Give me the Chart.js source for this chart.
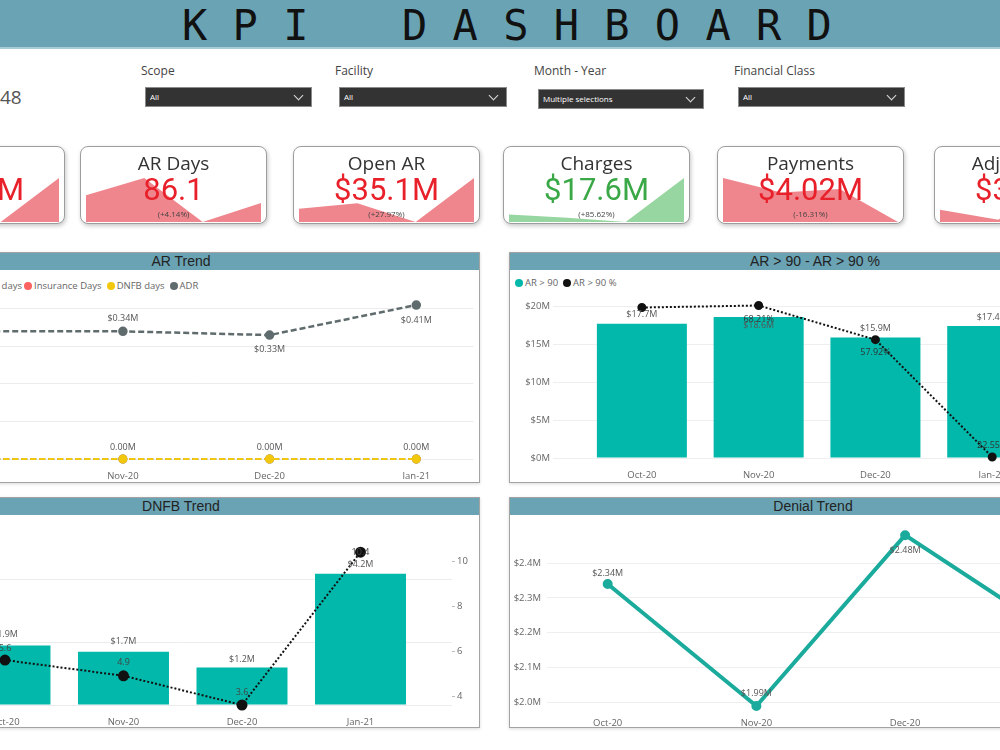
<!DOCTYPE html>
<html>
<head>
<meta charset="utf-8">
<title>KPI Dashboard</title>
<script src="https://cdn.jsdelivr.net/npm/chart.js@4.4.1/dist/chart.umd.min.js"></script>
<style>
  body { margin:0; width:1000px; height:750px; overflow:hidden; position:relative; background:#fff; font-family:"Open Sans", sans-serif; }
  #banner { position:absolute; left:0; top:0; width:1000px; height:47px; background:#6aa3b4; border-bottom:2px solid #a9cdd8; }
  #banner span { position:absolute; top:2px; font:42px/47px "DejaVu Sans Mono", monospace; color:#111; white-space:pre; }
  #total { position:absolute; left:0; top:86px; font-size:19px; line-height:22px; color:#555; }
  .flabel { position:absolute; top:63px; font-size:12px; line-height:16px; color:#444; }
  .drop { position:absolute; height:20px; background:#333; border:1px solid #8a8a8a; color:#fff; font-size:8px; line-height:18px; padding-left:4px; box-sizing:border-box; }
  .drop::after { content:''; position:absolute; right:9px; top:4px; width:6px; height:6px; border-right:1.3px solid #ddd; border-bottom:1.3px solid #ddd; transform:rotate(45deg); }
  .card { position:absolute; top:146px; width:187px; height:78px; background:#fff; border:1.5px solid #9d9d9d; border-radius:8px; box-shadow:1px 2px 4px rgba(0,0,0,.22); box-sizing:border-box; overflow:hidden; }
  .card .spark { position:absolute; left:5px; top:31px; width:175px; height:44px; }
  .card .ttl { position:absolute; left:0; width:100%; top:3px; text-align:center; font-size:19px; line-height:26px; color:#333; }
  .card .val { position:absolute; left:0; width:100%; top:25px; text-align:center; font:31px/36px Roboto, sans-serif; }
  .card .chg { position:absolute; left:0; width:100%; top:61px; text-align:center; font-size:8px; line-height:11px; color:#444; }
  .panel { position:absolute; border:1.5px solid #a3a3a3; background:#fff; box-sizing:border-box; box-shadow:0 1px 3px rgba(0,0,0,.15); }
  .phead { height:17px; background:#6aa3b4; text-align:center; font:14px/17px "Liberation Sans", Arial, sans-serif; color:#222; }
  .chartbox { position:absolute; }
  .legend { position:absolute; font-size:9.5px; line-height:12px; color:#666; white-space:nowrap; }
  .legend i { display:inline-block; width:8px; height:8px; border-radius:50%; vertical-align:-1px; margin-right:2px; }
  .legend b { font-weight:normal; margin-right:5px; }
</style>
</head>
<body>

<div id="banner"><span style="left:182px">K P I</span><span style="left:402px">D A S H B O A R D</span></div>

<div id="total">48</div>
<div class="flabel" style="left:141px">Scope</div>
<div class="drop" style="left:145px;top:87px;width:167px">All</div>
<div class="flabel" style="left:335px">Facility</div>
<div class="drop" style="left:339px;top:87px;width:168px">All</div>
<div class="flabel" style="left:534px">Month - Year</div>
<div class="drop" style="left:538px;top:89px;width:166px">Multiple selections</div>
<div class="flabel" style="left:734px">Financial Class</div>
<div class="drop" style="left:738px;top:87px;width:167px">All</div>

<div id="cards"></div>

<div class="panel" style="left:-118px;top:252px;width:598px;height:231px"><div class="phead">AR Trend</div></div>
<div class="panel" style="left:509px;top:252px;width:612px;height:231px"><div class="phead">AR &gt; 90 - AR &gt; 90 %</div></div>
<div class="panel" style="left:-118px;top:497px;width:598px;height:231px"><div class="phead">DNFB Trend</div></div>
<div class="panel" style="left:509px;top:497px;width:608px;height:231px"><div class="phead">Denial Trend</div></div>

<div class="legend" style="right:978px;top:280px"><i style="background:#01b8aa"></i><b style="margin-right:0">Patient days</b></div>
<div class="legend" style="left:24px;top:280px"><i style="background:#fd625e"></i><b>Insurance Days</b><i style="background:#f2c80f"></i><b>DNFB days</b><i style="background:#5f6b6d"></i><b>ADR</b></div>
<div class="legend" style="left:515px;top:277px"><i style="background:#01b8aa"></i><b>AR &gt; 90</b><i style="background:#111"></i><b>AR &gt; 90 %</b></div>

<div class="chartbox" style="left:-118px;top:281px;width:598px;height:198px"><canvas id="arTrend"></canvas></div>
<div class="chartbox" style="left:509px;top:290px;width:606px;height:188px"><canvas id="ar90"></canvas></div>
<div class="chartbox" style="left:-118px;top:535px;width:598px;height:191px"><canvas id="dnfb"></canvas></div>
<div class="chartbox" style="left:509px;top:520px;width:608px;height:206px"><canvas id="denial"></canvas></div>

<script>
const months = ['Oct-20', 'Nov-20', 'Dec-20', 'Jan-21'];

// KPI cards
const kpiTitles = ['ADR', 'AR Days', 'Open AR', 'Charges', 'Payments', 'Adjustments'];
const kpiValues = ['$0.41M', '86.1', '$35.1M', '$17.6M', '$4.02M', '$3.10M'];
const kpiChanges = ['(+24.24%)', '(+4.14%)', '(+27.97%)', '(+85.62%)', '(-16.31%)', '(-29.55%)'];
const kpiStatus = ['bad', 'bad', 'bad', 'good', 'bad', 'bad'];
const adrSpark = [0.34, 0.34, 0.33, 0.41];
const arDaysSpark = [87.5, 90.6, 82.7, 86.1];
const openArSpark = [29.7, 30.7, 27.4, 35.1];
const chargesSpark = [10.9, 10.3, 9.5, 17.6];
const paymentsSpark = [5.06, 4.72, 4.80, 4.02];
const adjustSpark = [3.46, 3.17, 4.40, 3.10];

// AR Trend
const patientDays = [88.7, 92.1, 86.4, 90.2];
const insuranceDays = [81.3, 84.2, 79.6, 82.8];
const dnfbDays = [5.6, 4.9, 3.6, 10.4];
const adr = [340000, 340000, 330000, 410000];
const arTicks = [0, 100000, 200000, 300000, 400000];

// AR > 90
const arOver90 = [17.7, 18.6, 15.9, 17.4];
const arOver90Pct = [67.6, 68.21, 57.92, 22.55];
const ar90Ticks = [0, 5, 10, 15, 20];

// DNFB
const dnfbAmount = [1.9, 1.7, 1.2, 4.2];
const dnfbAmountTicks = [0, 2, 4];
const dnfbDayTicks = [4, 6, 8, 10];

// Denials
const denials = [2.34, 1.99, 2.48, 2.20];
const denialTicks = [2.0, 2.1, 2.2, 2.3, 2.4];

Chart.defaults.font.family = '"Open Sans", sans-serif';
Chart.defaults.animation = false;
Chart.defaults.plugins.legend.display = false;
Chart.defaults.plugins.tooltip.enabled = false;

const cardX = [-122, 80, 293, 503, 717, 934];
const statusStyle = {
  good: { text: '#3aa846', fill: '#97d6a0' },
  bad: { text: '#e8202a', fill: '#ef868d' }
};
const kpiTrends = [adrSpark, arDaysSpark, openArSpark, chargesSpark, paymentsSpark, adjustSpark];

const cards = document.getElementById('cards');
kpiTitles.forEach((title, i) => {
  const st = statusStyle[kpiStatus[i]];
  const card = document.createElement('div');
  card.className = 'card';
  card.style.left = cardX[i] + 'px';
  card.innerHTML =
    '<div class="spark"><canvas></canvas></div>' +
    '<div class="ttl">' + title + '</div>' +
    '<div class="val" style="color:' + st.text + '">' + kpiValues[i] + '</div>' +
    '<div class="chg">' + kpiChanges[i] + '</div>';
  cards.appendChild(card);

  const vals = kpiTrends[i];
  new Chart(card.querySelector('canvas'), {
    type: 'line',
    data: {
      labels: months,
      datasets: [{ data: vals, fill: 'start', backgroundColor: st.fill, borderWidth: 0, pointRadius: 0, tension: 0 }]
    },
    options: {
      responsive: true,
      maintainAspectRatio: false,
      scales: {
        x: { display: false, offset: false },
        y: { display: false, min: Math.min(...vals), max: Math.max(...vals) }
      }
    }
  });
});

// draws the value labels next to each bar / point
const valueLabels = {
  id: 'valueLabels',
  afterDatasetsDraw(chart) {
    const ctx = chart.ctx;
    chart.data.datasets.forEach((ds, i) => {
      if (!ds.labels) return;
      const meta = chart.getDatasetMeta(i);
      meta.data.forEach((el, j) => {
        const dy = ds.labels.dy[j];
        if (dy === null) return;
        ctx.save();
        ctx.font = '9px "Open Sans", sans-serif';
        ctx.fillStyle = ds.labels.color || '#555';
        ctx.textAlign = 'center';
        ctx.textBaseline = 'middle';
        ctx.fillText(ds.labels.fmt(ds.data[j].y), el.x, el.y + dy);
        ctx.restore();
      });
    });
  }
};

const pts = vals => vals.map((v, i) => ({ x: i, y: v }));
const fixedTicks = values => s => { s.ticks = values.map(v => ({ value: v })); };

function monthAxis(min, max, height) {
  return {
    type: 'linear',
    min: min,
    max: max,
    offset: false,
    afterBuildTicks: fixedTicks(months.map((m, i) => i)),
    ticks: { callback: v => months[v], color: '#666', font: { size: 9.5 }, padding: 4, maxRotation: 0, autoSkip: false },
    grid: { display: false },
    border: { display: false },
    afterFit: s => { s.height = height; }
  };
}

new Chart(document.getElementById('arTrend'), {
  type: 'line',
  data: {
    datasets: [
      {
        label: 'DNFB days', data: pts(dnfbDays), borderColor: '#f2c80f', backgroundColor: '#f2c80f',
        borderDash: [6, 3], borderWidth: 2, pointRadius: 3.5, order: 0, clip: false,
        labels: { fmt: v => (v / 1e6).toFixed(2) + 'M', dy: [-12, -12, -12, -12] }
      },
      {
        label: 'Insurance Days', data: pts(insuranceDays), borderColor: '#fd625e', backgroundColor: '#fd625e',
        borderDash: [6, 3], borderWidth: 2, pointRadius: 3.5, order: 1, clip: false
      },
      {
        label: 'Patient days', data: pts(patientDays), borderColor: '#01b8aa', backgroundColor: '#01b8aa',
        borderDash: [6, 3], borderWidth: 2, pointRadius: 3.5, order: 2, clip: false
      },
      {
        label: 'ADR', data: pts(adr), borderColor: '#5f6b6d', backgroundColor: '#5f6b6d',
        borderDash: [6, 3], borderWidth: 2.5, pointRadius: 3.5, order: 3, clip: false,
        labels: { fmt: v => '$' + (v / 1e6).toFixed(2) + 'M', dy: [-13, -13, 14, 15] }
      }
    ]
  },
  options: {
    responsive: true,
    maintainAspectRatio: false,
    layout: { padding: { top: 9, right: 5 } },
    scales: {
      x: monthAxis(-0.39, 3.39, 20),
      y: {
        min: 0, max: 450000,
        afterBuildTicks: fixedTicks(arTicks),
        ticks: { display: false },
        grid: { color: '#ececec', drawTicks: false },
        border: { display: false },
        afterFit: s => { s.width = 37; }
      }
    }
  },
  plugins: [valueLabels]
});

new Chart(document.getElementById('ar90'), {
  type: 'bar',
  data: {
    datasets: [
      {
        type: 'line', label: 'AR > 90 %', data: pts(arOver90Pct), yAxisID: 'y2',
        borderColor: '#111', backgroundColor: '#111', borderWidth: 2, borderDash: [2, 2],
        pointRadius: 3.5, order: 0, clip: false,
        labels: { fmt: v => v.toFixed(2) + '%', dy: [null, 14, 13, -12], color: '#333' }
      },
      {
        type: 'bar', label: 'AR > 90', data: pts(arOver90), backgroundColor: '#01b8aa',
        grouped: false, categoryPercentage: 1, barPercentage: 1.5, maxBarThickness: 90, order: 1,
        labels: { fmt: v => '$' + v.toFixed(1) + 'M', dy: [-9, 9, -9, -9] }
      }
    ]
  },
  options: {
    responsive: true,
    maintainAspectRatio: false,
    layout: { padding: { top: 4, right: 5 } },
    scales: {
      x: monthAxis(-0.761, 4.0, 20),
      y: {
        min: 0, max: 21,
        afterBuildTicks: fixedTicks(ar90Ticks),
        ticks: { callback: v => '$' + v + 'M', color: '#666', font: { size: 9.5 }, padding: 3 },
        grid: { color: '#eeeeee', drawTicks: false },
        border: { display: false },
        afterFit: s => { s.width = 44; }
      },
      y2: { display: false, position: 'right', min: 22.26, max: 70.26 }
    }
  },
  plugins: [valueLabels]
});

new Chart(document.getElementById('dnfb'), {
  type: 'bar',
  data: {
    datasets: [
      {
        type: 'line', label: 'DNFB days', data: pts(dnfbDays), yAxisID: 'y2',
        borderColor: '#111', backgroundColor: '#111', borderWidth: 2, borderDash: [2, 2],
        pointRadius: 4.5, order: 0, clip: false,
        labels: { fmt: v => v.toFixed(1), dy: [-12, -13, -13, 0], color: '#444' }
      },
      {
        type: 'bar', label: 'DNFB', data: pts(dnfbAmount), backgroundColor: '#01b8aa',
        grouped: false, categoryPercentage: 1, barPercentage: 1.5, maxBarThickness: 91, order: 1,
        labels: { fmt: v => '$' + v.toFixed(1) + 'M', dy: [-11, -10, -8, -9] }
      }
    ]
  },
  options: {
    responsive: true,
    maintainAspectRatio: false,
    layout: { padding: { top: 6 } },
    scales: {
      x: monthAxis(-0.776, 3.772, 21),
      y: {
        min: 0, max: 5.19,
        afterBuildTicks: fixedTicks(dnfbAmountTicks),
        ticks: { display: false },
        grid: { color: '#ececec', drawTicks: false },
        border: { display: false },
        afterFit: s => { s.width = 31; }
      },
      y2: {
        position: 'right', min: 3.6, max: 10.82,
        afterBuildTicks: fixedTicks(dnfbDayTicks),
        ticks: { color: '#666', font: { size: 9.5 }, padding: 2 },
        grid: { drawOnChartArea: false, tickLength: 3, color: '#bbb' },
        border: { display: false },
        afterFit: s => { s.width = 28; }
      }
    }
  },
  plugins: [valueLabels]
});

new Chart(document.getElementById('denial'), {
  type: 'line',
  data: {
    datasets: [{
      label: 'Denials', data: pts(denials), borderColor: '#1aab9c', backgroundColor: '#1aab9c',
      borderWidth: 4, pointRadius: 3, clip: false,
      labels: { fmt: v => '$' + v.toFixed(2) + 'M', dy: [-11, -13, 15, -11] }
    }]
  },
  options: {
    responsive: true,
    maintainAspectRatio: false,
    layout: { padding: { top: 5, right: 5 } },
    scales: {
      x: monthAxis(-0.408, 3.371, 20),
      y: {
        min: 1.99, max: 2.49,
        afterBuildTicks: fixedTicks(denialTicks),
        ticks: { callback: v => '$' + v.toFixed(1) + 'M', color: '#666', font: { size: 9.5 }, padding: 6 },
        grid: { color: '#eeeeee', drawTicks: false },
        border: { display: false },
        afterFit: s => { s.width = 38; }
      }
    }
  },
  plugins: [valueLabels]
});
</script>
</body>
</html>
